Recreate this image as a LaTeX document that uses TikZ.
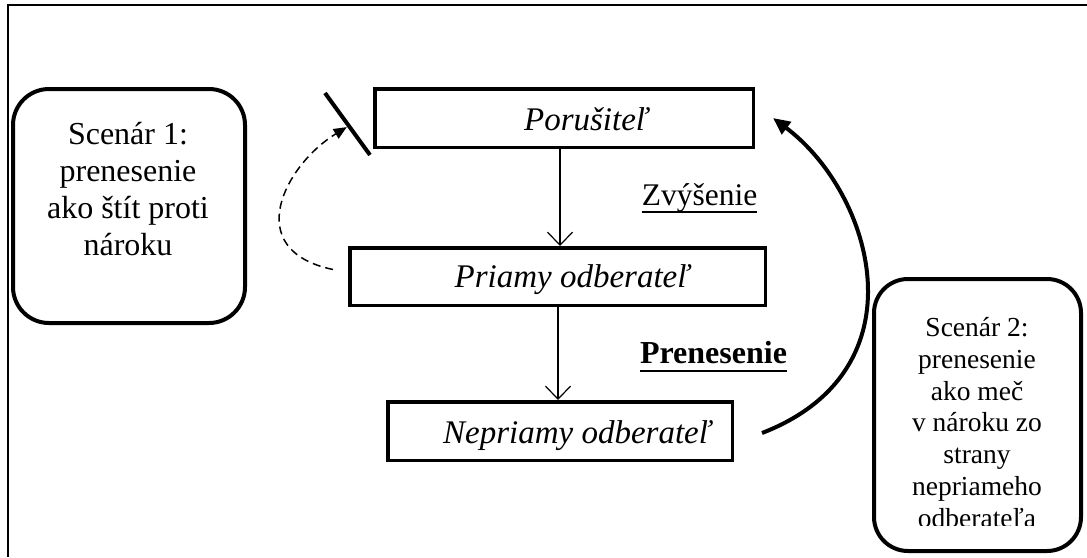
\documentclass[tikz,border=0pt]{standalone}
\usepackage{fontspec}
\setmainfont{Liberation Serif}
\usetikzlibrary{arrows.meta,calc}
\begin{document}
\begin{tikzpicture}[x=1pt,y=-1pt,
  box/.style={draw,line width=3.5pt,inner sep=0pt},
  scen/.style={draw,line width=4pt,rounded corners=36pt,inner sep=0pt},
  lbl/.style={inner sep=0pt,anchor=base,font=\fontsize{33}{38}\selectfont\itshape},
  flow/.style={line width=1.2pt,-{Straight Barb[length=13pt,width=25pt]}},
  sword/.style={line width=4pt,-{Triangle[length=17pt,width=15pt]}},
  shield/.style={line width=1.5pt,dash pattern=on 8pt off 5pt,-{Triangle[length=13pt,width=11pt]}},
  note/.style={inner sep=0pt,anchor=base}
]
\useasboundingbox (0,0) rectangle (1087,557);
\draw[line width=2pt] (8,557) -- (8,5) -- (1087,5);

% main boxes
\node[box,minimum width=378.5pt,minimum height=58.5pt] (p) at (564,118) {};
\node[box,minimum width=415.5pt,minimum height=57.5pt] (q) at (557.5,276.5) {};
\node[box,minimum width=344.5pt,minimum height=58.5pt] (n) at (560,431) {};
\node[lbl] (pt) at (586,130) {Porušiteľ};
\node[lbl] (qt) at (572,287) {Priamy odberateľ};
\node[lbl] (nt) at (577,443) {Nepriamy odberateľ};

% vertical flow arrows
\draw[flow] ($(p.south)+(-4,0)$) -- ($(q.north)+(2.5,0)$);
\draw[flow] ($(q.south)+(0.5,0)$) -- ($(n.north)+(-2,0)$);

% labels
\node[note,font=\fontsize{31.5}{36}\selectfont] (z) at (699.5,205) {Zvýšenie};
\draw[line width=1.3pt] ($(z.base west)+(0,7)$) -- ($(z.base east)+(0,7)$);
\node[note,font=\fontsize{32}{36}\selectfont\bfseries] (pr) at (713.5,363) {Prenesenie};
\draw[line width=2pt] ($(pr.base west)+(0,7.5)$) -- ($(pr.base east)+(0,7.5)$);

% scenario 1
\node[scen,minimum width=232pt,minimum height=234pt] (s1) at (129,206) {};
\node[align=center,inner sep=0pt,font=\fontsize{32}{36.7}\selectfont] (s1t) at (128,189) {Scenár 1:\\prenesenie\\ako štít proti\\nároku};

% scenario 2
\node[scen,rounded corners=34pt,minimum width=207pt,minimum height=272pt] (s2) at (977.5,415) {};
\begin{scope}
\clip (860,280) rectangle (1080,525);
\node[align=center,inner sep=0pt,font=\fontsize{27.5}{31.7}\selectfont] (s2t) at (977,422.5) {Scenár 2:\\prenesenie\\ako meč\\v nároku zo\\strany\\nepriameho\\odberateľa};
\end{scope}

% shield barrier and dashed arrow
\coordinate (b1) at (325,93);
\coordinate (b2) at (370,155);
\draw[line width=4pt] (b1) -- (b2);
\draw[shield] ($(q.west)+(-15,-7)$) .. controls (240,250) and (285,165) .. ($(b1)!0.55!(b2)+(-3,0)$);

% sword arrow
\draw[sword] ($(n.east)+(28,2)$) .. controls +(163,-63) and +(100,75) .. ($(p.east)+(18,0)$);
\end{tikzpicture}
\end{document}
